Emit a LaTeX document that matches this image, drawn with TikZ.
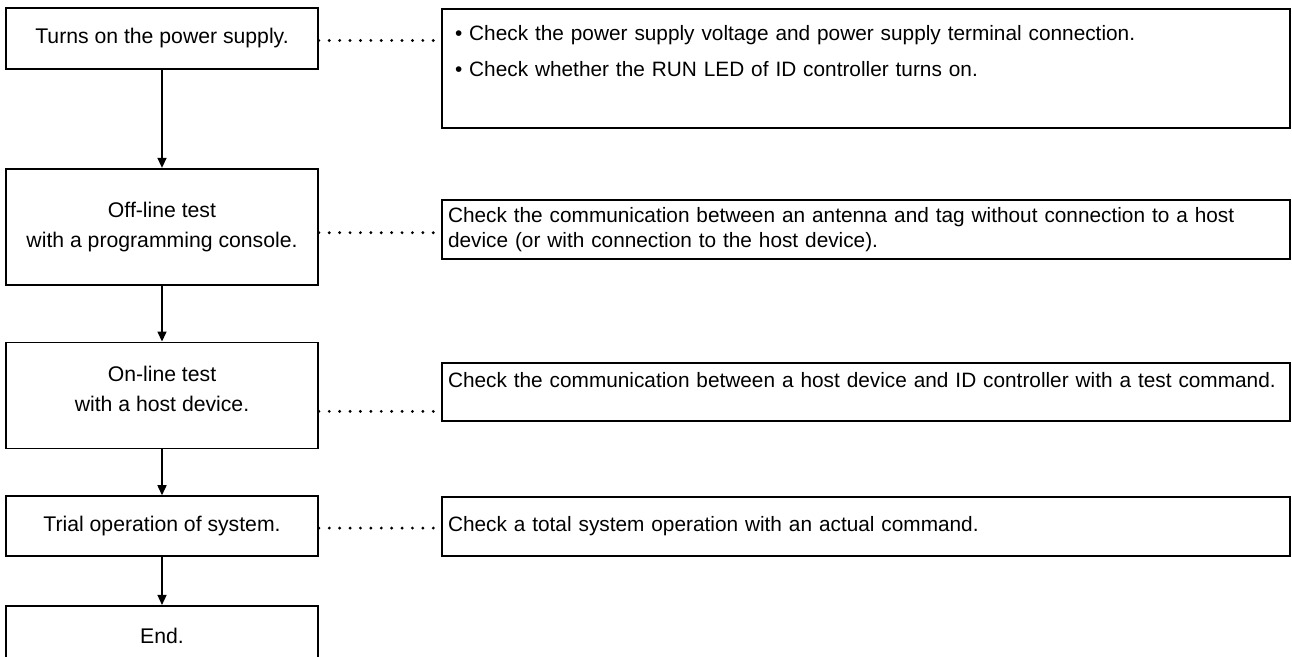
\documentclass[tikz,border=0pt]{standalone}
\usepackage{fontspec}
\setmainfont{Liberation Sans}
\usetikzlibrary{arrows.meta,positioning}
\hyphenpenalty=10000

\begin{document}
\begin{tikzpicture}[x=0.5pt,y=-0.5pt,
      font=\fontsize{10.6}{15}\selectfont,
      stage/.style={draw,line width=0.85pt,minimum width=156pt,align=center,inner sep=0pt},
      check/.style={draw,line width=1.05pt,text width=418pt,inner xsep=3pt,align=left,
                    font=\fontsize{10.4}{12.5}\selectfont},
      flow/.style={-{Triangle[length=5pt,width=4.5pt]},line width=0.75pt},
      leader/.style={line width=1.6pt,line cap=round,dash pattern=on 0pt off 5.2pt}]

    \path[use as bounding box] (0,0) rectangle (1292,657);
    \clip (0,0) rectangle (1292,657);

    % steps on the left
    \node[stage,minimum height=30.5pt] (power) at (162,38.5) {Turns on the power supply.};
    \node[stage,minimum height=58pt,below=49pt of power] (offline)
      {Off-line test\\with a programming console.};
    \node[stage,minimum height=53pt,below=28pt of offline] (online)
      {On-line test\\with a host device.\\[-8.5pt]\mbox{}};
    \node[stage,minimum height=30pt,below=23pt of online] (trial) {Trial operation of system.};
    \node[stage,minimum height=30.5pt,below=24pt of trial] (finish) {End.};

    % checks on the right
    \node[check,minimum height=59.5pt,inner xsep=6.5pt,text width=411pt] (supply) at (866,68.5)
      {• Check the power supply voltage and power supply terminal connection.\\[5.5pt]
       • Check whether the RUN LED of ID controller turns on.\\[5.5pt]\mbox{}};
    \node[check,minimum height=29.5pt] (antenna) at (866,229.5)
      {Check the communication between an antenna and tag without connection to a host\\
       device (or with connection to the host device).};
    \node[check,minimum height=29pt] (host) at (866,392)
      {Check the communication between a host device and ID controller with a test command.\\\mbox{}};
    \node[check,minimum height=29.5pt] (system) at (866,526.5)
      {Check a total system operation with an actual command.};

    \draw[flow] (power) -- (offline);
    \draw[flow] (offline) -- (online);
    \draw[flow] (online) -- (trial);
    \draw[flow] (trial) -- (finish);

    \draw[leader] ([yshift=-1pt]power.east) -- ([yshift=-1pt]power.east -| supply.west);
    \draw[leader] ([yshift=-3pt]offline.east) -- ([yshift=-3pt]offline.east -| antenna.west);
    \draw[leader] ([yshift=-8pt]online.east) -- ([yshift=-8pt]online.east -| host.west);
    \draw[leader] ([yshift=-1pt]trial.east) -- ([yshift=-1pt]trial.east -| system.west);
  \end{tikzpicture}
\end{document}
